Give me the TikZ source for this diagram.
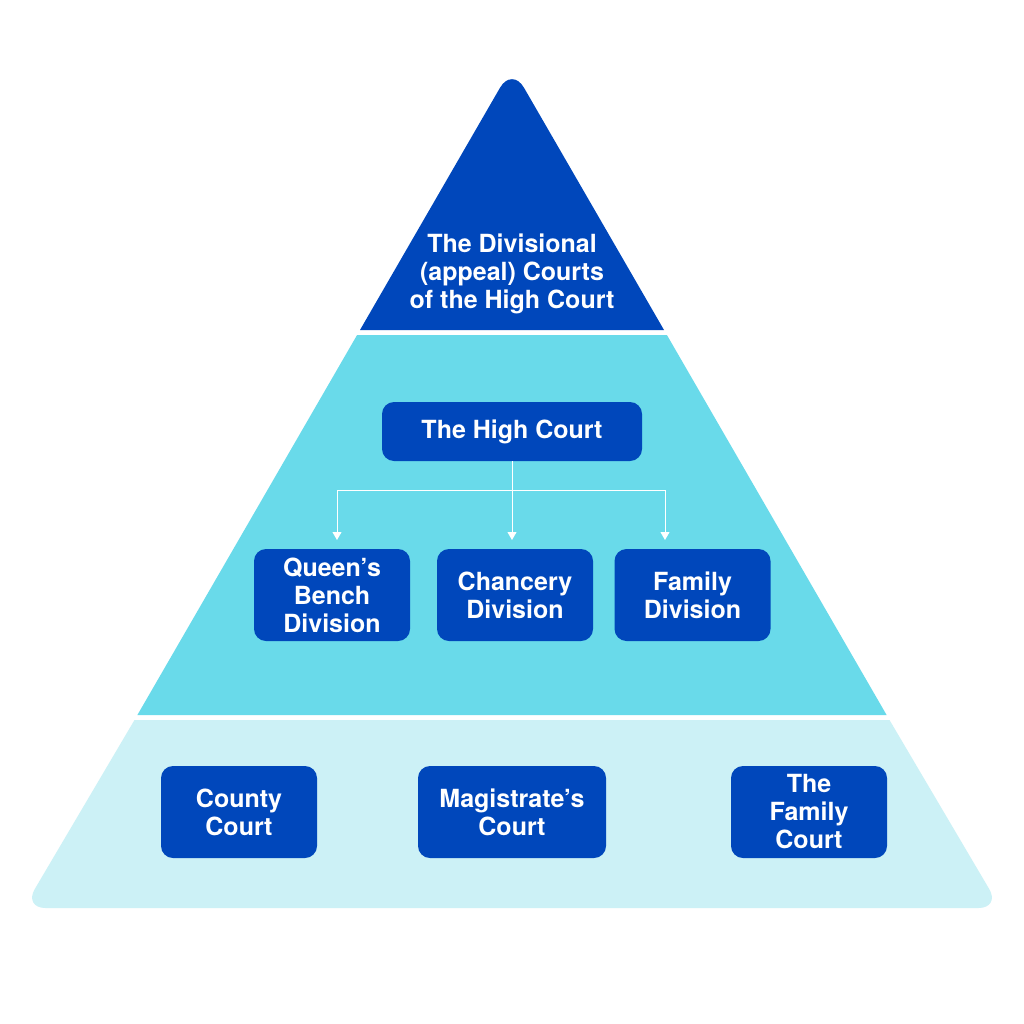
\documentclass[tikz,border=0pt]{standalone}
\usepackage{fontspec}
\setmainfont{TeX Gyre Heros}
\usetikzlibrary{arrows.meta}
\definecolor{darkblue}{HTML}{0047BB}
\definecolor{midcyan}{HTML}{69DAEA}
\definecolor{lightcyan}{HTML}{CCF1F6}
\begin{document}
\begin{tikzpicture}[x=1pt,y=-1pt,
  courtbox/.style={fill=darkblue, rounded corners=12pt, text=white,
    font=\fontsize{25}{28}\selectfont\bfseries, align=center,
    inner sep=0pt, outer sep=0pt},
  toptext/.style={text=white, font=\fontsize{25}{28}\selectfont\bfseries,
    align=center, inner sep=0pt},
  arr/.style={draw=white, line width=0.9pt, -{Triangle[width=9pt,length=8pt]}}]
\useasboundingbox (0,0) rectangle (1024,1024);
\fill[white] (0,0) rectangle (1024,1024);
% sections of the pyramid (edge: x = 360 - 0.578 (y - 330))
\fill[darkblue] (360,330) [rounded corners=24pt] -- (512,67) [sharp corners] -- (664,330) -- cycle;
\fill[midcyan] (357.1,335) -- (666.9,335) -- (886.6,715) -- (137.4,715) -- cycle;
\fill[lightcyan] (134.5,720) -- (889.5,720) [rounded corners=22pt] -- (1000.4,908) -- (23.6,908) [sharp corners] -- cycle;
% texts and boxes
\node[toptext] (div) at (512,274) {The Divisional\\(appeal) Courts\\of the High Court};
\node[courtbox, minimum width=260pt, minimum height=59pt] (hc) at (512,431.5) {The High Court};
\node[courtbox, minimum width=156pt, minimum height=92pt] (qb) at (332,595) {Queen’s\\Bench\\Division};
\node[courtbox, minimum width=156pt, minimum height=92pt] (cd) at (515,595) {Chancery\\Division};
\node[courtbox, minimum width=156pt, minimum height=92pt] (fd) at (692.5,595) {Family\\Division};
\node[courtbox, minimum width=156pt, minimum height=92pt] (cc) at (239,812) {County\\Court};
\node[courtbox, minimum width=188pt, minimum height=92pt] (mc) at (512,812) {Magistrate’s\\Court};
\node[courtbox, minimum width=156pt, minimum height=92pt] (fc) at (809,812) {The\\Family\\Court};
% connectors
\coordinate (j) at (512,490);
\coordinate (qa) at (337,540);
\coordinate (ca) at (512,540);
\coordinate (fa) at (665,540);
\draw[arr] (hc.south) -- (ca);
\draw[arr] (j) -| (qa);
\draw[arr] (j) -| (fa);
\end{tikzpicture}
\end{document}
